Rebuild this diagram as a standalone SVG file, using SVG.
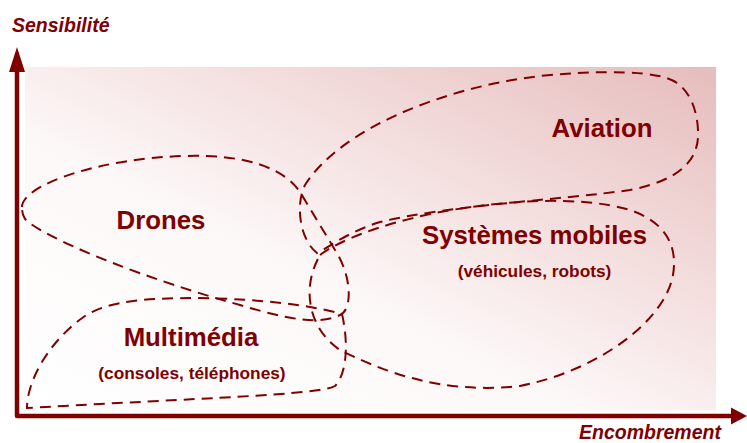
<svg xmlns="http://www.w3.org/2000/svg" width="747" height="443" viewBox="0 0 747 443">
<defs>
<linearGradient id="bg" x1="0" y1="1" x2="1" y2="0">
<stop offset="0" stop-color="#ffffff"/>
<stop offset="0.4" stop-color="#fdf8f8"/>
<stop offset="0.7" stop-color="#f2dada"/>
<stop offset="1" stop-color="#e6bcbc"/>
</linearGradient>
</defs>
<style>
.zone{fill:none;stroke:#800000;stroke-width:2;stroke-dasharray:11 7}
.big{font-family:"Liberation Sans",Arial,sans-serif;font-weight:bold;font-size:25.8px;fill:#800000;text-anchor:middle}
.small{font-family:"Liberation Sans",Arial,sans-serif;font-weight:bold;font-size:17.3px;fill:#800000;text-anchor:middle}
.axis{font-family:"Liberation Sans",Arial,sans-serif;font-weight:bold;font-style:italic;font-size:19.5px;fill:#800000}
.ax{stroke:#800000;stroke-width:4.5;fill:none}
.head{fill:#800000}
</style>
<rect x="25" y="67" width="691" height="343" fill="url(#bg)"/>
<g id="axes">
<path class="ax" d="M17,70 L17,416 L733,416" stroke-linejoin="round"/>
<polygon class="head" points="17,47 9,72 25,72"/>
<polygon class="head" points="747,416 731,407.5 731,424.5"/>
<text class="axis" x="12" y="32">Sensibilité</text>
<text class="axis" x="579" y="439">Encombrement</text>
</g>
<g id="connectors"></g>
<g id="aviation">
<path class="zone" d="M677,83 C660,70 600,70 540,76 C440,88 340,130 305,185 C295,205 300,240 317,253 C325,250 345,233 380,222 C450,205 560,200 630,190 C680,180 700,160 698,130 C697,110 690,92 677,83 Z"/>
<text class="big" x="602" y="137">Aviation</text>
</g>
<g id="drones">
<path class="zone" d="M22,207 C22,185 100,158 185,156 C250,154 285,170 300,192 L338,255 C352,280 352,310 340,315 C320,325 290,320 240,305 C150,280 60,245 28,222 C23,218 22,212 22,207 Z"/>
<text class="big" x="161" y="229">Drones</text>
</g>
<g id="systemes">
<path class="zone" d="M320,255 C340,240 380,225 430,214 C500,200 580,195 630,210 C665,222 678,245 673,275 C665,320 600,370 520,386 C440,395 380,370 340,350 C310,330 300,290 320,255 Z"/>
<text class="big" x="534.5" y="244">Systèmes mobiles</text>
<text class="small" x="534.5" y="277">(véhicules, robots)</text>
</g>
<g id="multimedia">
<path class="zone" d="M342,314 C348,340 348,372 335,386 C320,395 200,398 27,408 C27,380 50,340 85,316 C110,300 150,298 200,298 C260,299 310,305 342,314 Z"/>
<text class="big" x="191" y="346">Multimédia</text>
<text class="small" x="192" y="379">(consoles, téléphones)</text>
</g>
</svg>
